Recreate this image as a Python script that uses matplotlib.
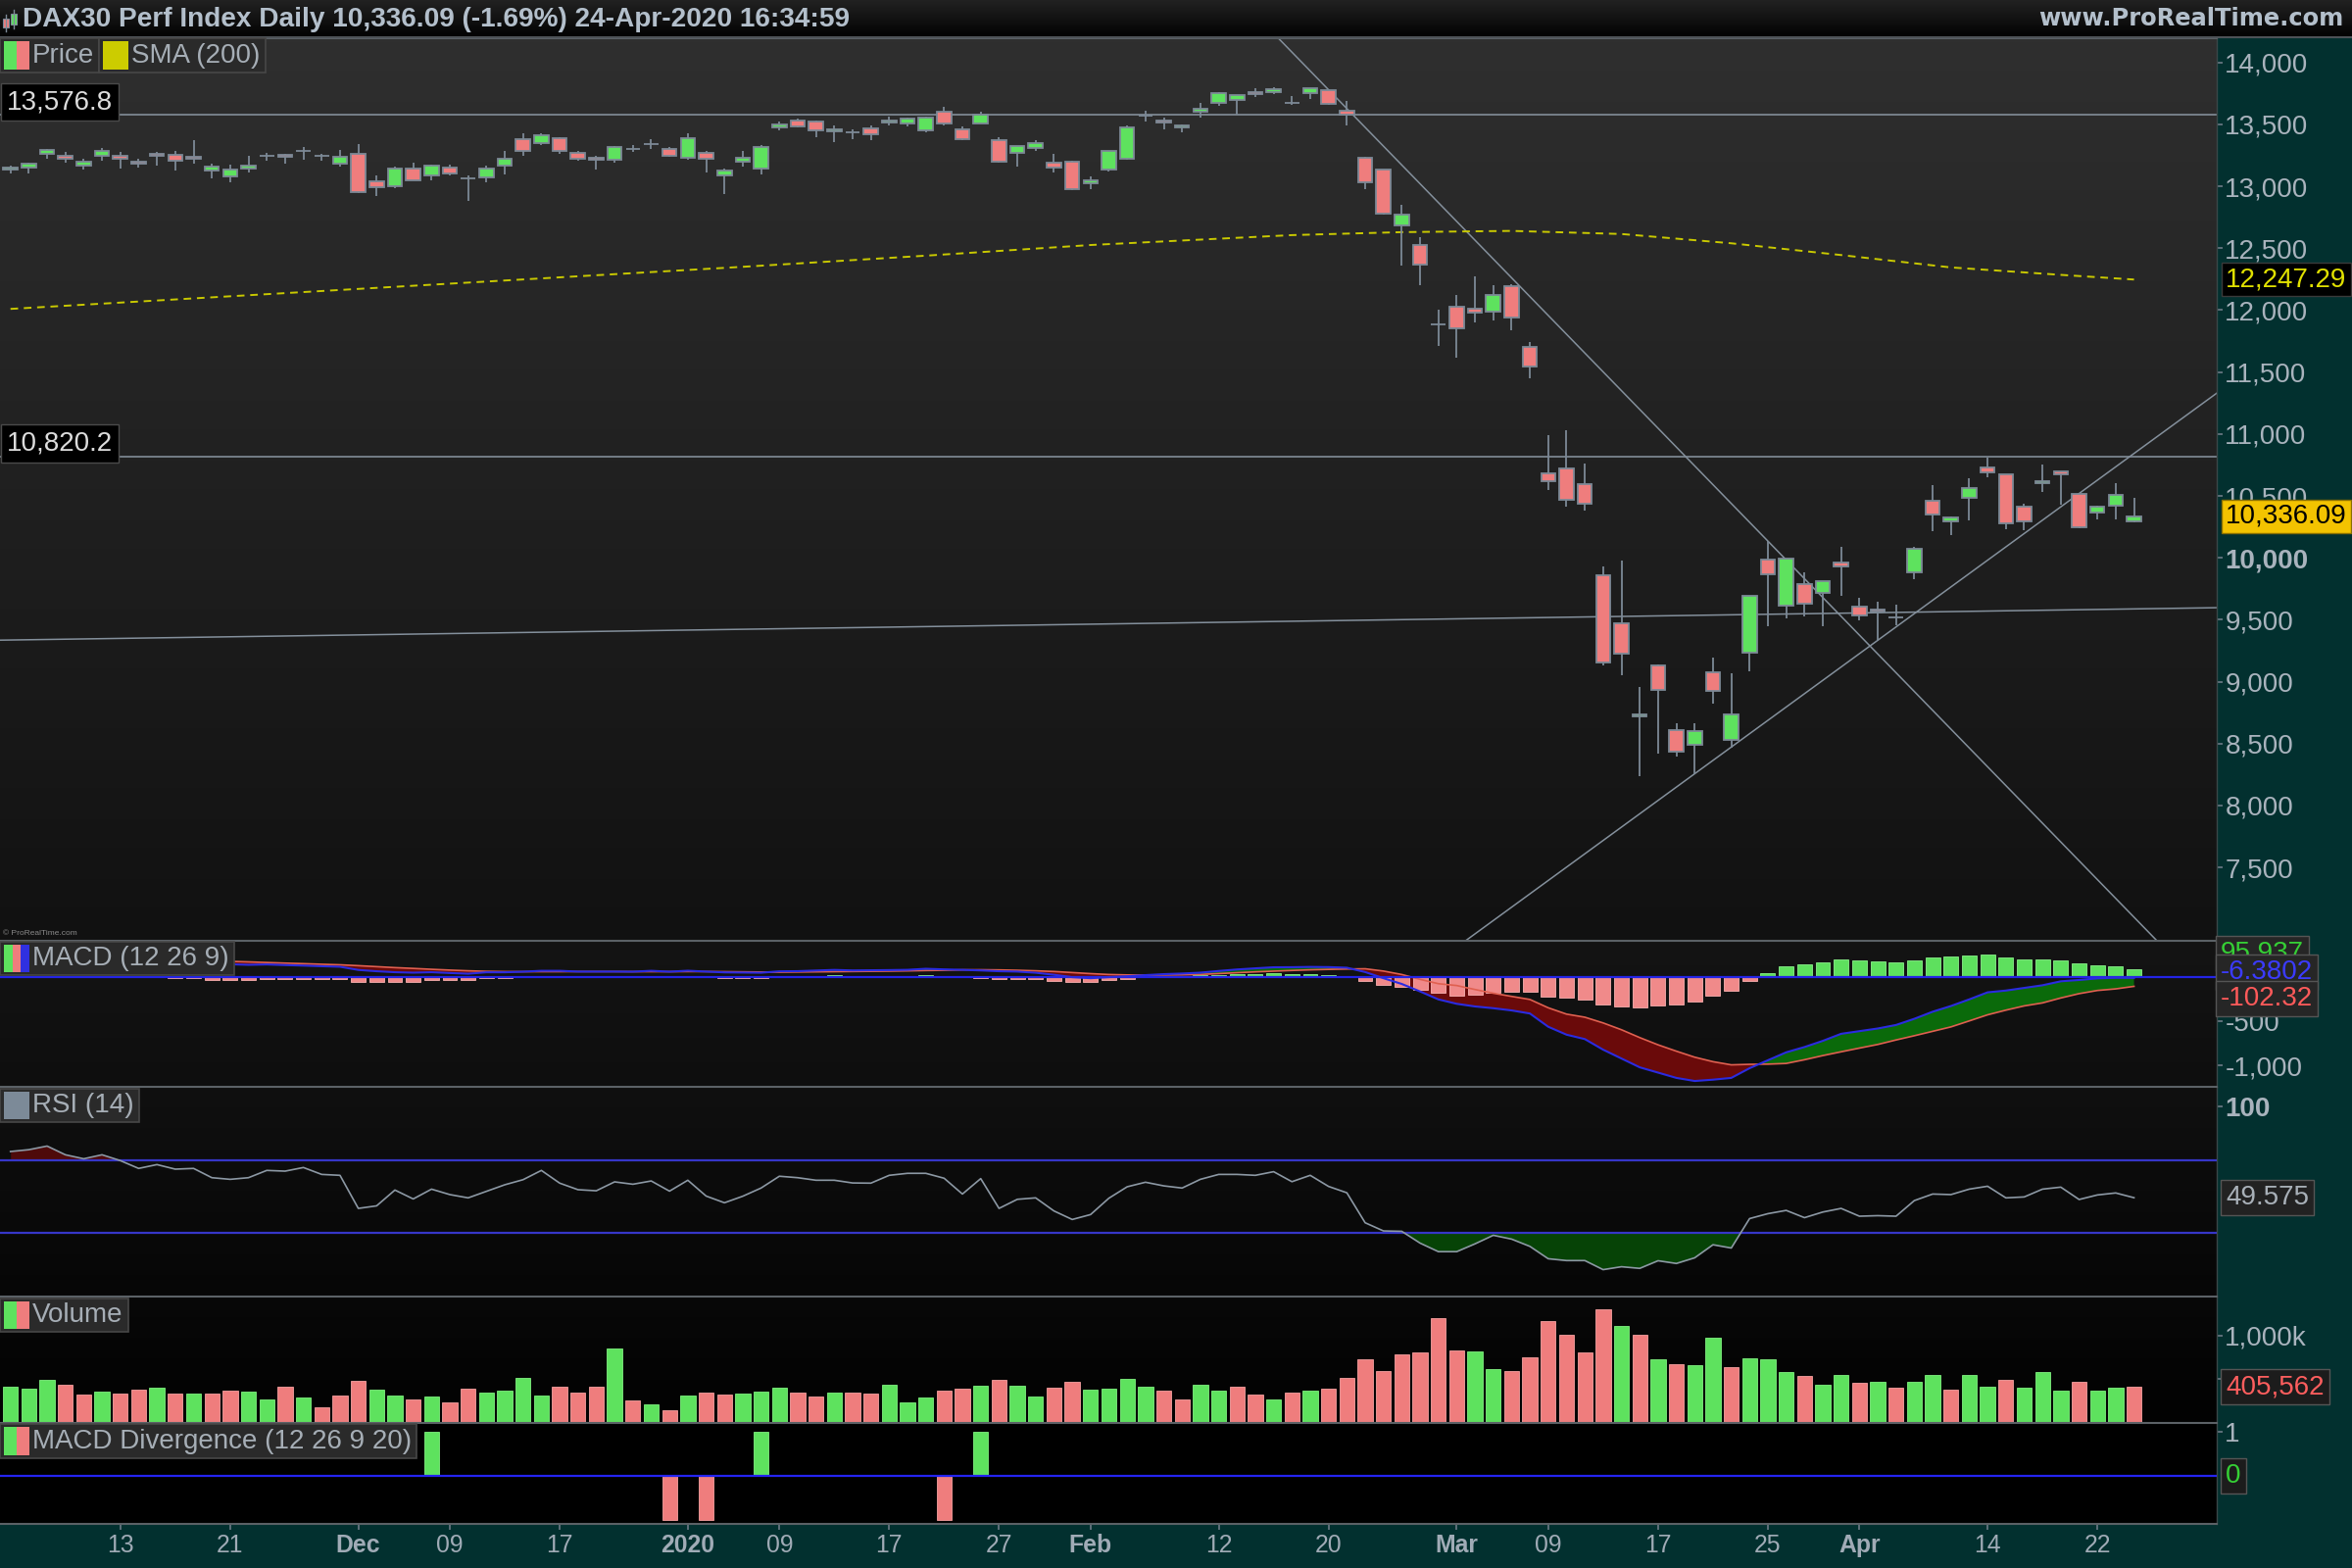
import numpy as np
import pandas as pd
import matplotlib
matplotlib.use('Agg')
import matplotlib.pyplot as plt
from matplotlib.colors import LinearSegmentedColormap
from matplotlib.patches import Rectangle
from matplotlib.lines import Line2D
from matplotlib.transforms import blended_transform_factory as blend

plt.rcParams['font.family'] = ['Liberation Sans', 'DejaVu Sans']

# ---------------------------------------------------------------- data
holidays = ['2019-12-24', '2019-12-25', '2019-12-26', '2019-12-31',
            '2020-01-01', '2020-04-10', '2020-04-13']
dates = pd.bdate_range('2019-11-05', '2020-04-24', freq='C', holidays=holidays)

opens = [13133, 13149, 13260, 13244, 13165, 13244, 13244, 13196, 13260, 13252,
         13236, 13125, 13078, 13141, 13244, 13252, 13289, 13244, 13181, 13260,
         13038, 12999, 13141, 13086, 13152, 13066, 13070, 13165, 13378, 13347,
         13386, 13268, 13231, 13212, 13299, 13339, 13299, 13228, 13268, 13086,
         13196, 13141, 13473, 13529, 13521, 13442, 13439, 13466, 13513, 13505,
         13455, 13600, 13458, 13510, 13373, 13273, 13313, 13189, 13199, 13028,
         13133, 13220, 13572, 13529, 13473, 13600, 13671, 13695, 13758, 13764,
         13677, 13750, 13774, 13608, 13228, 13133, 12682, 12524, 11888, 12025,
         12009, 11986, 12191, 11707, 10680, 10719, 10593, 9857, 9469, 8717,
         9129, 8606, 8488, 9073, 8527, 9231, 9983, 9611, 9785, 9714,
         9960, 9603, 9580, 9519, 9881, 10458, 10292, 10482, 10727, 10672,
         10411, 10601, 10696, 10514, 10363, 10424, 10297]
highs = [13167, 13194, 13305, 13278, 13220, 13310, 13278, 13223, 13278, 13286,
         13376, 13186, 13173, 13244, 13270, 13265, 13318, 13265, 13297, 13339,
         13088, 13160, 13191, 13178, 13173, 13091, 13165, 13286, 13429, 13429,
         13397, 13286, 13247, 13326, 13331, 13379, 13318, 13429, 13284, 13144,
         13286, 13331, 13524, 13547, 13531, 13492, 13460, 13492, 13563, 13555,
         13563, 13642, 13484, 13603, 13397, 13326, 13376, 13260, 13207, 13080,
         13284, 13492, 13611, 13555, 13500, 13674, 13764, 13740, 13793, 13801,
         13729, 13790, 13785, 13690, 13239, 13133, 12851, 12590, 12004, 12125,
         12276, 12205, 12210, 11745, 10991, 11031, 10762, 9931, 9978, 8957,
         9137, 8662, 8662, 9192, 9065, 9691, 10134, 9991, 9880, 9809,
         10086, 9677, 9646, 9622, 10089, 10588, 10334, 10643, 10812, 10672,
         10437, 10754, 10701, 10514, 10421, 10603, 10485]
lows = [13107, 13107, 13225, 13194, 13138, 13210, 13141, 13154, 13167, 13128,
        13186, 13067, 13036, 13115, 13210, 13186, 13218, 13210, 13160, 12948,
        12922, 12988, 13045, 13051, 13086, 12885, 13036, 13099, 13249, 13336,
        13265, 13210, 13138, 13194, 13281, 13305, 13239, 13218, 13115, 12941,
        13160, 13099, 13455, 13475, 13397, 13357, 13381, 13376, 13495, 13487,
        13439, 13495, 13371, 13505, 13191, 13160, 13286, 13112, 12970, 12980,
        13123, 13215, 13526, 13463, 13437, 13555, 13653, 13576, 13722, 13748,
        13658, 13706, 13660, 13492, 12980, 12774, 12363, 12205, 11714, 11619,
        11904, 11920, 11840, 11452, 10551, 10416, 10384, 9129, 9055, 8240,
        8416, 8393, 8250, 8825, 8464, 9086, 9450, 9514, 9530, 9445,
        9696, 9493, 9327, 9458, 9830, 10218, 10184, 10305, 10651, 10234,
        10226, 10535, 10432, 10240, 10311, 10311, 10290]
closes = [13152, 13181, 13291, 13225, 13196, 13283, 13225, 13181, 13244, 13204,
          13220, 13157, 13136, 13165, 13244, 13236, 13289, 13244, 13236, 12956,
          12991, 13141, 13051, 13165, 13101, 13067, 13141, 13220, 13283, 13410,
          13283, 13220, 13212, 13315, 13299, 13339, 13244, 13386, 13220, 13125,
          13228, 13315, 13497, 13481, 13450, 13457, 13439, 13423, 13529, 13545,
          13553, 13510, 13384, 13576, 13202, 13326, 13349, 13154, 12980, 13046,
          13284, 13476, 13572, 13513, 13489, 13624, 13750, 13740, 13743, 13782,
          13677, 13790, 13663, 13576, 13030, 12782, 12769, 12366, 11888, 11851,
          11980, 12120, 11938, 11541, 10616, 10466, 10434, 9152, 9224, 8733,
          8931, 8432, 8598, 8923, 8733, 9690, 9865, 9991, 9627, 9809,
          9928, 9532, 9564, 9519, 10071, 10347, 10324, 10561, 10688, 10276,
          10292, 10617, 10672, 10245, 10411, 10506, 10336.09]

# SMA(200) read at a few sessions (index into dates)
sma_idx = [0, 10, 20, 30, 40, 50, 59, 70, 76, 82, 88, 94, 100, 106, 112, 116]
sma_val = [12010, 12095, 12180, 12265, 12350, 12440, 12526, 12606, 12630, 12640,
           12615, 12540, 12445, 12345, 12285, 12247.29]

# user drawn lines: (session index, price) pairs
level_lines = [13576.8, 10820.2]
desc_line = [(69.22, 14202), (117.15, 6923)]
asc_line = [(79.63, 6923), (120.42, 11319)]
flat_line = [(-0.57, 9335), (120.5, 9597)]

macd = [205, 204, 203, 202, 200, 198, 196, 194, 192, 182,
        180, 155, 148, 142, 146, 139, 133, 126, 120, 84,
        69, 58, 53, 58, 49, 41, 57, 57, 64, 74,
        74, 65, 65, 65, 64, 74, 64, 75, 65, 56,
        54, 52, 68, 70, 77, 84, 78, 80, 82, 85,
        97, 90, 85, 78, 69, 65, 52, 29, 2, -10,
        2, 12, 25, 36, 43, 53, 72, 89, 102, 114,
        115, 118, 116, 109, 60, -10, -75, -160, -250, -300,
        -330, -350, -375, -410, -560, -650, -700, -820, -920, -1020,
        -1080, -1140, -1175, -1160, -1140, -1030, -940, -850, -790, -720,
        -640, -610, -580, -540, -470, -390, -325, -250, -170, -150,
        -120, -90, -45, -30, -12, -5, -6.3802]
signal = [205, 204, 203, 202, 200, 198, 196, 194, 192, 190,
          188, 185, 181, 175, 168, 161, 155, 148, 142, 132,
          121, 110, 101, 91, 82, 74, 68, 65, 64, 64,
          64, 65, 65, 65, 64, 64, 64, 65, 65, 64,
          62, 60, 58, 60, 62, 64, 66, 68, 70, 73,
          77, 80, 85, 86, 84, 80, 74, 66, 54, 42,
          32, 27, 25, 26, 28, 33, 42, 52, 62, 70,
          78, 85, 90, 94, 97, 71, 32, -23, -72, -93,
          -138, -180, -216, -251, -345, -417, -452, -517, -594, -683,
          -765, -837, -905, -956, -992, -986, -984, -976, -934, -887,
          -844, -802, -761, -710, -662, -612, -562, -494, -425, -372,
          -324, -290, -234, -185, -149, -131, -102.32]
macd_hist = [0, 0, 0, 0, 0, 0, 0, 0, 0, -8,
             -8, -30, -33, -33, -22, -22, -22, -22, -22, -48,
             -52, -52, -48, -33, -33, -33, -11, -8, 0, 10,
             10, 0, 0, 0, 0, 10, 0, 10, 0, -8,
             -8, -8, 10, 10, 15, 20, 12, 12, 12, 12,
             20, 10, 0, -8, -15, -15, -22, -37, -52, -52,
             -30, -15, 0, 10, 15, 20, 30, 37, 40, 44,
             37, 33, 26, 15, -37, -81, -107, -137, -178, -207,
             -192, -170, -159, -159, -215, -233, -248, -303, -326, -337,
             -315, -303, -270, -204, -148, -44, 44, 126, 144, 167,
             204, 192, 181, 170, 192, 222, 237, 244, 255, 222,
             204, 200, 189, 155, 137, 126, 95.937]

rsi = [75, 76, 78, 73.2, 71, 73.2, 70, 65.7, 67.8, 65.3,
       65.7, 60.6, 59.7, 60.6, 64.6, 64.2, 66.2, 62.4, 61.9, 43.7,
       45.1, 53.8, 48.9, 54.3, 51.3, 49.5, 53.1, 56.7, 59.5, 64.6,
       57.6, 54, 53.4, 58.3, 57, 58.8, 53.2, 59.2, 50.5, 46.8,
       50.4, 54.9, 61.4, 60.6, 59.2, 59.2, 57.7, 57.6, 61.9, 63,
       63, 60.3, 51.6, 60.1, 43.7, 48.7, 49.5, 42.3, 37.6, 40.3,
       49.3, 55.6, 58.1, 56.1, 54.9, 59.7, 62.4, 62.4, 61.9, 63.9,
       58.4, 61.9, 55.8, 52.3, 35.8, 31.3, 31.1, 24.6, 19.9, 19.9,
       24.2, 28.9, 26.8, 22.8, 16, 15, 15, 10, 11.6, 10.7,
       14.9, 13.4, 16.5, 23.7, 21.9, 38.1, 40.8, 42.6, 38.6, 41.7,
       43.7, 39.4, 39.7, 39.4, 48, 51.6, 51.3, 54.3, 55.9, 49.5,
       50, 54.3, 55.4, 48.6, 51.1, 52.2, 49.575]

volume_k = [409, 387, 489, 432, 318, 352, 330, 375, 398, 330,
            330, 330, 364, 352, 262, 409, 284, 171, 307, 478,
            375, 307, 262, 296, 227, 387, 341, 364, 512, 307,
            409, 341, 409, 853, 250, 205, 136, 307, 341, 318,
            330, 352, 398, 341, 296, 341, 341, 330, 432, 227,
            284, 364, 387, 421, 489, 421, 296, 398, 466, 375,
            387, 500, 409, 364, 262, 432, 364, 409, 318, 262,
            341, 364, 387, 512, 728, 591, 785, 807, 1205, 830,
            819, 614, 591, 750, 1171, 1012, 807, 1308, 1114, 1012,
            728, 671, 659, 978, 637, 739, 728, 580, 534, 432,
            546, 455, 466, 398, 466, 546, 375, 546, 409, 489,
            398, 580, 364, 466, 364, 398, 405.562]
volume_up = [1, 1, 1, 0, 0, 1, 0, 0, 1, 0,
             1, 0, 0, 1, 1, 0, 1, 0, 0, 0,
             1, 1, 0, 1, 0, 0, 1, 1, 1, 1,
             0, 0, 0, 1, 0, 1, 0, 1, 0, 0,
             1, 1, 1, 0, 0, 1, 0, 0, 1, 1,
             1, 0, 0, 1, 0, 1, 1, 0, 0, 1,
             1, 1, 1, 0, 0, 1, 1, 0, 0, 1,
             0, 1, 0, 0, 0, 0, 0, 0, 0, 0,
             1, 1, 0, 0, 0, 0, 0, 0, 1, 0,
             1, 0, 1, 1, 0, 1, 1, 1, 0, 1,
             1, 0, 1, 0, 1, 1, 0, 1, 1, 0,
             1, 1, 1, 0, 1, 1, 0]

div_dates = ['2019-12-06', '2019-12-30', '2020-01-03', '2020-01-08', '2020-01-22', '2020-01-24']
div_values = [1, -1, -1, 1, -1, 1]

tick_dates = ['2019-11-13', '2019-11-21', '2019-12-02', '2019-12-09', '2019-12-17',
              '2020-01-02', '2020-01-09', '2020-01-17', '2020-01-27', '2020-02-03',
              '2020-02-12', '2020-02-20', '2020-03-02', '2020-03-09', '2020-03-17',
              '2020-03-25', '2020-04-01', '2020-04-14', '2020-04-22']
tick_text = ['13', '21', 'Dec', '09', '17', '2020', '09', '17', '27', 'Feb',
             '12', '20', 'Mar', '09', '17', '25', 'Apr', '14', '22']
bold_ticks = ['Dec', '2020', 'Feb', 'Mar', 'Apr']
price_ticks = list(range(7500, 14001, 500))

title = 'DAX30 Perf Index Daily 10,336.09 (-1.69%) 24-Apr-2020 16:34:59'

# ---------------------------------------------------------------- style
W, H = 2400, 1600
XR = 2262
TEAL = '#02302f'
GREEN = '#5ee25e'
RED = '#ef7d7d'
OUTL = '#7c8996'
TICKC = '#a9b3bd'
LEGC = '#a6aeb6'
FS = 20

fig = plt.figure(figsize=(W / 100, H / 100), dpi=100, facecolor=TEAL)

n = len(dates)
idx = np.arange(n)
o = np.array(opens, float)
hi = np.array(highs, float)
lo = np.array(lows, float)
c = np.array(closes, float)
XL = (-0.573, 120.52)


def panel(top, bot):
    return fig.add_axes([0, 1 - bot / H, XR / W, (bot - top) / H])


def gradient(ax, c_top, c_bot):
    cmap = LinearSegmentedColormap.from_list('g', [c_top, c_bot])
    arr = np.linspace(0, 1, 256).reshape(-1, 1)
    ax.imshow(arr, cmap=cmap, aspect='auto', extent=(0, 1, 0, 1),
              transform=ax.transAxes, zorder=-10, interpolation='bilinear')


def style_panel(ax):
    for s in ['left', 'bottom']:
        ax.spines[s].set_visible(False)
    ax.spines['top'].set_color('#5b6166')
    ax.spines['top'].set_linewidth(1.5)
    ax.spines['right'].set_color('#3a4748')
    ax.spines['right'].set_linewidth(1.0)
    ax.yaxis.tick_right()
    ax.tick_params(axis='y', colors='#6c7a86', labelcolor=TICKC, labelsize=FS,
                   length=4, width=1.2, pad=2)
    ax.tick_params(axis='x', bottom=False, labelbottom=False)


# header
ax_h = fig.add_axes([0, 1 - 38 / H, 1, 38 / H])
gradient(ax_h, '#222222', '#020202')
ax_h.set_xlim(0, 1)
ax_h.set_ylim(0, 1)
ax_h.axis('off')
ax_h.text(23 / W, 0.47, title, fontsize=20.2, fontweight='bold', color='#b3bfcb',
          va='center', ha='left', transform=ax_h.transAxes)
ax_h.text(0.9965, 0.5, 'www.ProRealTime.com', fontsize=17.4, fontweight='bold',
          family='DejaVu Sans', color='#b3bfcb', va='center', ha='right',
          transform=ax_h.transAxes)
fig.add_artist(Line2D([0, 1], [1 - 38 / H, 1 - 38 / H], transform=fig.transFigure,
                      color='#4d5257', lw=1.5))
# header icon
for (x0, y0, w, h, col) in [(3, 19, 6, 9, RED), (11, 14, 6, 11, GREEN)]:
    fig.add_artist(Line2D([(x0 + w / 2) / W] * 2, [1 - (y0 - 4) / H, 1 - (y0 + h + 4) / H],
                          transform=fig.transFigure, color=OUTL, lw=1))
    fig.add_artist(Rectangle((x0 / W, 1 - (y0 + h) / H), w / W, h / H,
                             transform=fig.transFigure, fc=col, ec=OUTL, lw=0.8))

# ---------------------------------------------------------------- price
ax_p = panel(38.5, 960)
gradient(ax_p, '#2f2f2f', '#111111')
style_panel(ax_p)
for lv in level_lines:
    ax_p.axhline(lv, color='#8a96a2', lw=1.1, zorder=2)
for ln in (desc_line, asc_line, flat_line):
    ax_p.axline(ln[0], ln[1], color='#84909c', lw=1.1, zorder=2)
ax_p.plot(sma_idx, sma_val, color='#c9c900', lw=1.4, ls=(0, (4, 3)), zorder=2.5)

up = c >= o
ax_p.vlines(idx, lo, hi, color=OUTL, lw=1.3, zorder=3)
ax_p.bar(idx, np.abs(c - o), bottom=np.minimum(o, c), width=0.78,
         color=np.where(up, GREEN, RED), edgecolor=OUTL, lw=1.3, zorder=4)

ax_p.set_yticks(price_ticks)
ax_p.set_yticklabels([f'{t:,}' for t in price_ticks])
for lab in ax_p.get_yticklabels():
    if lab.get_text() == '10,000':
        lab.set_fontweight('bold')
ax_p.set_xlim(*XL)
ax_p.set_ylim(6907, 14200)
tr = blend(ax_p.transAxes, ax_p.transData)
for lv, txt in zip(level_lines, ['13,576.8', '10,820.2']):
    ax_p.text(0.003, lv, txt, transform=tr, ha='left', va='bottom', fontsize=FS,
              color='#dcdcdc', zorder=8,
              bbox=dict(boxstyle='square,pad=0.22', fc='#000000', ec='#4a4a4a', lw=1))
ax_p.text(1.004, sma_val[-1], f'{sma_val[-1]:,.2f}', transform=tr, ha='left', va='center',
          fontsize=FS, color='#e0e000', zorder=9, clip_on=False,
          bbox=dict(boxstyle='square,pad=0.15', fc='#000000', ec='#3a3a3a', lw=1))
ax_p.text(1.004, c[-1], f'{c[-1]:,.2f}', transform=tr, ha='left', va='center',
          fontsize=FS, color='#000000', zorder=9, clip_on=False,
          bbox=dict(boxstyle='square,pad=0.15', fc='#f3c300', ec='#8a7000', lw=1))
ax_p.text(0.0015, 0.004, '\u00a9 ProRealTime.com', transform=ax_p.transAxes,
          fontsize=6, color='#8a8a8a', ha='left', va='bottom')

# ---------------------------------------------------------------- MACD
m = np.array(macd, float)
s = np.array(signal, float)
mh = np.array(macd_hist, float)
ax_m = panel(960, 1109)
gradient(ax_m, '#141414', '#0e0e0e')
style_panel(ax_m)
ax_m.fill_between(idx, m, s, where=m >= s, interpolate=True, color='#0a6a0a', lw=0, zorder=2)
ax_m.fill_between(idx, m, s, where=m < s, interpolate=True, color='#6a0a0a', lw=0, zorder=2)
ax_m.bar(idx, mh, width=0.8, color=np.where(mh >= 0, '#5ee05e', '#f08a8a'),
         edgecolor=np.where(mh >= 0, '#8af08a', '#f8b0b0'), lw=0.6, zorder=3)
ax_m.plot(idx, s, color='#e06050', lw=1.2, zorder=4)
ax_m.plot(idx, m, color='#2b2be0', lw=1.5, zorder=5)
ax_m.axhline(0, color='#2424e6', lw=1.6, zorder=4)
ax_m.set_yticks([-1000, -500])
ax_m.set_yticklabels(['-1,000', '-500'])
ax_m.set_xlim(*XL)
ax_m.set_ylim(-1241, 414)
for ypx, txt, col in [(973, f'{macd_hist[-1]:.3f}', '#35d035'),
                      (992, f'{macd[-1]:.4f}', '#3b3bff'),
                      (1019, f'{signal[-1]:.2f}', '#ff5a5a')]:
    fig.text(2266 / W, 1 - ypx / H, txt, ha='left', va='center', fontsize=FS, color=col,
             zorder=20, bbox=dict(boxstyle='square,pad=0.18', fc='#262626', ec='#555555', lw=1))

# ---------------------------------------------------------------- RSI
r = np.array(rsi, float)
ax_r = panel(1109, 1323)
gradient(ax_r, '#101010', '#060606')
style_panel(ax_r)
ax_r.fill_between(idx, r, 70, where=r >= 70, interpolate=True, color='#4e0a0a', lw=0, zorder=2)
ax_r.fill_between(idx, r, 30, where=r <= 30, interpolate=True, color='#064306', lw=0, zorder=2)
ax_r.axhline(70, color='#3636c8', lw=1.6, zorder=3)
ax_r.axhline(30, color='#3636c8', lw=1.6, zorder=3)
ax_r.plot(idx, r, color='#8c98a4', lw=1.2, zorder=4)
ax_r.set_yticks([100])
ax_r.set_yticklabels(['100'])
ax_r.get_yticklabels()[0].set_fontweight('bold')
ax_r.set_xlim(*XL)
ax_r.set_ylim(-4.8, 110.6)
ax_r.text(1.004, r[-1], f'{rsi[-1]:.3f}', transform=blend(ax_r.transAxes, ax_r.transData),
          ha='left', va='center', fontsize=FS, color='#a8b0b8', zorder=9, clip_on=False,
          bbox=dict(boxstyle='square,pad=0.18', fc='#222222', ec='#555555', lw=1))

# ---------------------------------------------------------------- Volume
v = np.array(volume_k, float) * 1000
vu = np.array(volume_up, bool)
ax_v = panel(1323, 1451)
gradient(ax_v, '#080808', '#020202')
style_panel(ax_v)
ax_v.bar(idx, v, width=0.82, color=np.where(vu, GREEN, RED),
         edgecolor=np.where(vu, '#80f080', '#f5a0a0'), lw=0.6, zorder=3)
ax_v.set_yticks([500000, 1000000])
ax_v.set_yticklabels(['500,000', '1,000k'])
ax_v.set_xlim(*XL)
ax_v.set_ylim(0, 1454500)
ax_v.text(1.004, v[-1], f'{v[-1]:,.0f}', transform=blend(ax_v.transAxes, ax_v.transData),
          ha='left', va='center', fontsize=FS, color='#ff5e5e', zorder=9, clip_on=False,
          bbox=dict(boxstyle='square,pad=0.18', fc='#1c1c1c', ec='#555555', lw=1))

# ---------------------------------------------------------------- MACD divergence
ax_d = panel(1451.5, 1555)
ax_d.set_facecolor('#000000')
style_panel(ax_d)
ax_d.spines['bottom'].set_visible(True)
ax_d.spines['bottom'].set_color('#5b6166')
ax_d.spines['bottom'].set_linewidth(1.5)
dpos = [dates.get_loc(pd.Timestamp(d)) for d in div_dates]
dval = np.array(div_values, float)
ax_d.bar(dpos, dval, width=0.8, color=np.where(dval > 0, GREEN, RED),
         edgecolor=np.where(dval > 0, '#80f080', '#f5a0a0'), lw=0.6, zorder=3)
ax_d.axhline(0, color='#2424f0', lw=1.6, zorder=4)
ax_d.set_yticks([1])
ax_d.set_yticklabels(['1'])
ax_d.set_xlim(*XL)
ax_d.set_ylim(-1.089, 1.207)
ax_d.text(1.004, 0, '0', transform=blend(ax_d.transAxes, ax_d.transData),
          ha='left', va='center', fontsize=FS, color='#35d035', zorder=9, clip_on=False,
          bbox=dict(boxstyle='square,pad=0.18', fc='#1c1c1c', ec='#555555', lw=1))

tpos = [dates.get_loc(pd.Timestamp(d)) for d in tick_dates]
ax_d.set_xticks(tpos)
ax_d.set_xticklabels(tick_text)
ax_d.tick_params(axis='x', bottom=True, labelbottom=True, colors='#6c7a86',
                 labelcolor='#a0abb6', labelsize=17.8, length=4, width=1.2, pad=3)
for lab in ax_d.get_xticklabels():
    if lab.get_text() in bold_ticks:
        lab.set_fontweight('bold')

# ---------------------------------------------------------------- legend boxes
legends = [
    (0, 39, 74, [GREEN, RED], 'Price'),
    (None, 39, 74, ['#cccc00'], 'SMA (200)'),
    (0, 961, 995, [GREEN, RED, '#3030e0'], 'MACD (12 26 9)'),
    (0, 1111, 1145, ['#7c8a98'], 'RSI (14)'),
    (0, 1325, 1359, [GREEN, RED], 'Volume'),
    (0, 1453, 1488, [GREEN, RED], 'MACD Divergence (12 26 9 20)'),
]
fig.canvas.draw()
renderer = fig.canvas.get_renderer()
prev_right = 0
for x0, ytop, ybot, cols, txt in legends:
    if x0 is None:
        x0 = prev_right
    icon_l, icon_r = x0 + 4, x0 + 30
    t = fig.text((icon_r + 3) / W, 1 - (ytop + ybot) / 2 / H, txt, ha='left', va='center',
                 fontsize=FS, color=LEGC, zorder=31)
    bb = t.get_window_extent(renderer)
    right = bb.x1 + 5
    fig.add_artist(Rectangle((x0 / W, 1 - ybot / H), (right - x0) / W, (ybot - ytop) / H,
                             transform=fig.transFigure, fc='#2a2a2a', ec='#474747', lw=1.2,
                             zorder=29))
    k = len(cols)
    wseg = (icon_r - icon_l) / k
    for j, col in enumerate(cols):
        fig.add_artist(Rectangle(((icon_l + j * wseg) / W, 1 - (ybot - 3) / H), wseg / W,
                                 (ybot - ytop - 6) / H, transform=fig.transFigure,
                                 fc=col, ec='none', zorder=30))
    prev_right = right

fig.savefig('out.png', dpi=100, facecolor=TEAL)
